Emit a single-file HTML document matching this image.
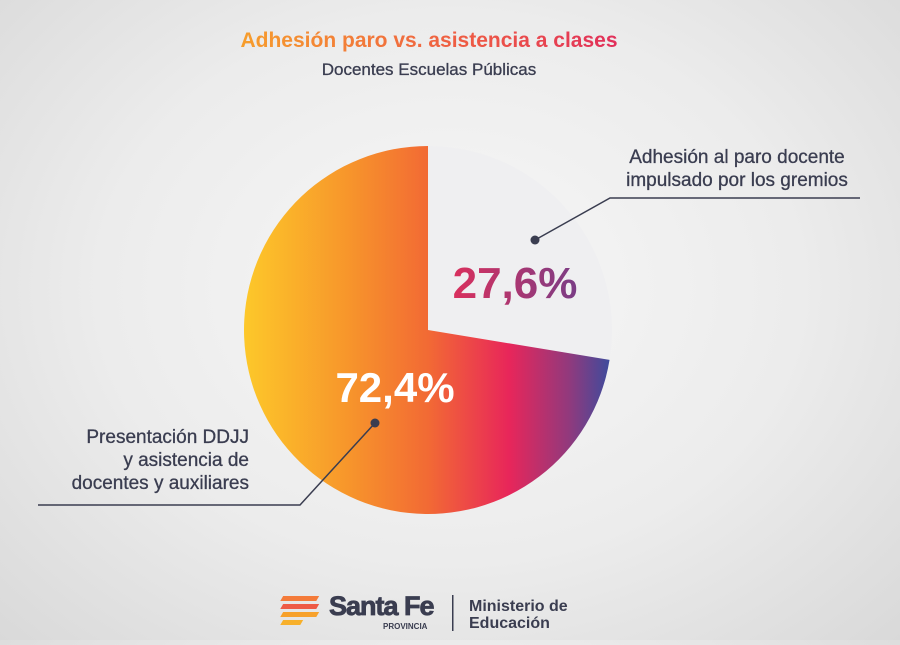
<!DOCTYPE html>
<html><head><meta charset="utf-8"><style>
html,body{margin:0;padding:0}
body{width:900px;height:640px;overflow:hidden;font-family:"Liberation Sans",sans-serif;background:radial-gradient(ellipse at 50% 45%,#f7f7f7 0%,#ececec 55%,#d9d9d9 100%)}
</style></head><body>
<svg width="900" height="640" viewBox="0 0 900 640">
<defs>
<linearGradient id="big" x1="244" y1="0" x2="612" y2="0" gradientUnits="userSpaceOnUse">
<stop offset="0" stop-color="#fdc82a"/><stop offset="0.28" stop-color="#f7962b"/><stop offset="0.5" stop-color="#f26a34"/><stop offset="0.72" stop-color="#e8265a"/><stop offset="0.88" stop-color="#93397c"/><stop offset="1" stop-color="#3a4c9e"/>
</linearGradient>
<linearGradient id="title" x1="230" y1="0" x2="630" y2="0" gradientUnits="userSpaceOnUse">
<stop offset="0" stop-color="#f7a12b"/><stop offset="0.6" stop-color="#ee5a45"/><stop offset="1" stop-color="#e02b5c"/>
</linearGradient>
<linearGradient id="pct" x1="455" y1="0" x2="578" y2="0" gradientUnits="userSpaceOnUse">
<stop offset="0" stop-color="#d8305e"/><stop offset="1" stop-color="#7a3d86"/>
</linearGradient>
</defs>
<text x="429" y="47" text-anchor="middle" font-size="21" font-weight="bold" fill="url(#title)">Adhesión paro vs. asistencia a clases</text>
<text x="429" y="75" text-anchor="middle" font-size="17" fill="#3a3d50" stroke="#3a3d50" stroke-width="0.3">Docentes Escuelas Públicas</text>
<g id="slices"></g>
<text x="515" y="298" text-anchor="middle" font-size="44" font-weight="bold" fill="url(#pct)" id="lbl0"></text>
<text x="395" y="402" text-anchor="middle" font-size="42" font-weight="bold" fill="#ffffff" id="lbl1"></text>
<g>
<circle cx="535" cy="240" r="4.5" fill="#3a3d50"/><polyline points="535,240 610,198 860,198" fill="none" stroke="#3a3d50" stroke-width="1.5"/>
</g>
<text font-size="19" fill="#3a3d50" stroke="#3a3d50" stroke-width="0.3" text-anchor="middle"><tspan x="737" y="163">Adhesión al paro docente</tspan><tspan x="737" y="186">impulsado por los gremios</tspan></text>
<g>
<circle cx="375" cy="423" r="4.5" fill="#3a3d50"/><polyline points="375,423 300,505 38,505" fill="none" stroke="#3a3d50" stroke-width="1.5"/>
</g>
<text font-size="19" fill="#3a3d50" stroke="#3a3d50" stroke-width="0.3" text-anchor="end"><tspan x="249" y="443">Presentación DDJJ</tspan><tspan x="249" y="466">y asistencia de</tspan><tspan x="249" y="489">docentes y auxiliares</tspan></text>
<g>
<rect x="282" y="596" width="36" height="5" fill="#f47b3a" transform="skewX(-30)" transform-origin="300 598"/>
<rect x="282" y="604" width="36" height="5" fill="#ee5a45" transform="skewX(-30)" transform-origin="300 606"/>
<rect x="282" y="612" width="36" height="5" fill="#f7a12b" transform="skewX(-30)" transform-origin="300 614"/>
<rect x="282" y="620" width="20" height="5" fill="#f7b02b" transform="skewX(-30)" transform-origin="292 622"/>
<text x="329" y="615" font-size="27" font-weight="bold" fill="#3a3d50" stroke="#3a3d50" stroke-width="0.8" letter-spacing="-1">Santa Fe</text>
<text x="383" y="629" font-size="8" font-weight="bold" fill="#3a3d50">PROVINCIA</text>
<rect x="452" y="595" width="1.5" height="36" fill="#3a3d50"/>
<text x="469" y="611" font-size="16" font-weight="bold" fill="#3a3d50">Ministerio de</text>
<text x="469" y="628" font-size="16" font-weight="bold" fill="#3a3d50">Educación</text>
</g>
</svg>
<script>
const categories = ["Adhesión al paro", "Presentación DDJJ y asistencia"];
const values = [27.6, 72.4];
const valueLabels = ["27,6%", "72,4%"];
const cx = 428, cy = 330, r = 184;
const fills = ["#efeff1", "url(#big)"];
const total = values.reduce((a, b) => a + b, 0);
function pt(a) { return [cx + r * Math.sin(a), cy - r * Math.cos(a)]; }
const g = document.getElementById('slices');
let start = 0;
values.forEach((v, i) => {
  const ang = v / total * 2 * Math.PI;
  const [x1, y1] = pt(start), [x2, y2] = pt(start + ang);
  const p = document.createElementNS('http://www.w3.org/2000/svg', 'path');
  p.setAttribute('d', `M${cx},${cy} L${x1},${y1} A${r},${r} 0 ${ang > Math.PI ? 1 : 0} 1 ${x2},${y2} Z`);
  p.setAttribute('fill', fills[i]);
  
  
  g.appendChild(p);
  start += ang;
});
document.getElementById('lbl0').textContent = valueLabels[0];
document.getElementById('lbl1').textContent = valueLabels[1];
</script>
</body></html>
